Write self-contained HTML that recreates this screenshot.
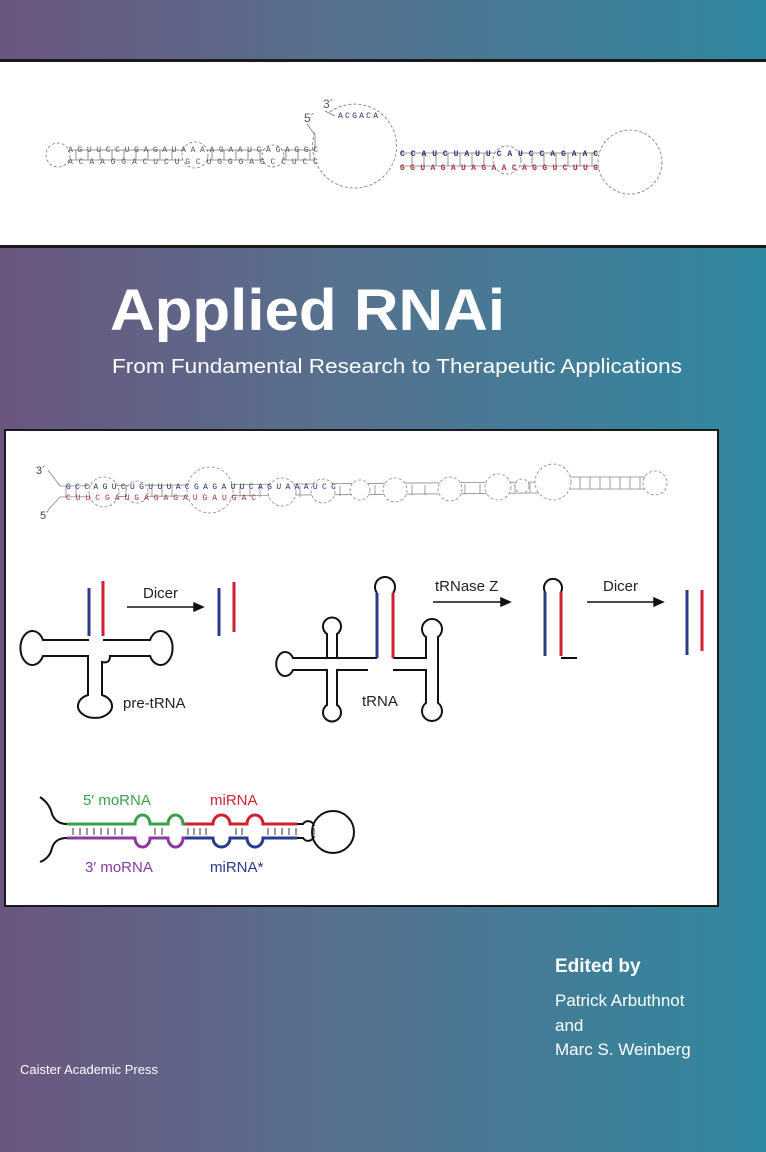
<!DOCTYPE html>
<html><head><meta charset="utf-8"><style>
html,body{margin:0;padding:0;width:766px;height:1152px;overflow:hidden}
svg{display:block}
text{font-family:"Liberation Sans",sans-serif}
.m{font-family:"Liberation Mono",monospace;font-size:8px}
</style></head><body>
<svg width="766" height="1152" viewBox="0 0 766 1152" xmlns="http://www.w3.org/2000/svg">
<defs>
<linearGradient id="bg" x1="0" y1="0" x2="1" y2="0">
<stop offset="0" stop-color="#6b5680"/><stop offset="0.45" stop-color="#56718f"/><stop offset="1" stop-color="#2f88a0"/>
</linearGradient>
</defs>
<rect width="766" height="1152" fill="url(#bg)"/>
<rect x="0" y="60" width="766" height="188" fill="#fff"/>
<rect x="0" y="59" width="766" height="3" fill="#1a1a1a"/>
<rect x="0" y="245" width="766" height="3" fill="#1a1a1a"/>
<g fill="none" stroke="#777" stroke-width="0.8">
<circle cx="58" cy="155" r="12" stroke-dasharray="3 2"/>
<line x1="70" y1="150" x2="315" y2="150"/><line x1="70" y1="160" x2="315" y2="160"/>
<path d="M76 150v10M88 150v10M100 150v10M112 150v10M124 150v10M136 150v10M148 150v10M160 150v10M172 150v10M212 150v10M224 150v10M236 150v10M248 150v10M260 150v10M286 150v10M298 150v10M310 150v10"/>
<circle cx="195" cy="155" r="13" fill="#fff" stroke-dasharray="3 2"/>
<circle cx="273" cy="156" r="11" fill="#fff" stroke-dasharray="3 2"/>
<path d="M330 112 A42 42 0 1 1 315 132" stroke-dasharray="3 2"/>
<path d="M307 124 L315 135 L315 150 M325 111 L335 116"/>
<line x1="400" y1="153" x2="598" y2="153"/><line x1="400" y1="166" x2="598" y2="166"/>
<path d="M412 153v13M424 153v13M436 153v13M448 153v13M460 153v13M472 153v13M484 153v13M532 153v13M544 153v13M556 153v13M568 153v13M580 153v13M592 153v13"/>
<circle cx="507" cy="160" r="14" fill="#fff" stroke-dasharray="3 2"/>
<circle cx="630" cy="162" r="32" stroke-dasharray="3 2"/>
</g>
<text class="m" x="68" y="152" fill="#555" textLength="250" lengthAdjust="spacing">AGUUCCUGAGAUAAAAGAAUCAGAGGC</text>
<text class="m" x="68" y="164" fill="#555" textLength="250" lengthAdjust="spacing">ACAAGGACUCUGCUGGGAGCCUCC</text>
<text class="m" x="400" y="156" fill="#2a2a6a" font-weight="bold" textLength="198" lengthAdjust="spacing">CCAUCUAUUCAUCCAGAAC</text>
<text class="m" x="400" y="170" fill="#b03040" font-weight="bold" textLength="198" lengthAdjust="spacing">GGUAGAUAGAACAGGUCUUG</text>
<text class="m" x="338" y="118" fill="#2a2a6a" textLength="40">ACGACA</text>
<text x="304" y="122" font-size="12" fill="#555">5´</text>
<text x="323" y="108" font-size="12" fill="#555">3´</text>
<text x="110" y="330" font-size="58" font-weight="bold" fill="#fff" textLength="395" lengthAdjust="spacingAndGlyphs">Applied RNAi</text>
<text x="112" y="373" font-size="20" fill="#fff" textLength="570" lengthAdjust="spacingAndGlyphs">From Fundamental Research to Therapeutic Applications</text>
<rect x="5" y="430" width="713" height="476" fill="#fff" stroke="#1a1a1a" stroke-width="2"/>
<g fill="none" stroke="#888" stroke-width="0.8">
<path d="M48 470 L60 486 M48 510 L60 497"/>
<line x1="60" y1="486" x2="540" y2="482"/><line x1="60" y1="497" x2="540" y2="493"/>
<path d="M66 486v11M76 486v11M126 486v11M152 486v11M162 486v11M172 486v11M240 486v11M250 486v11M260 486v11M300 486v11M340 486v10M375 485v10M412 485v10M425 485v10M465 484v10M480 484v10M515 483v10M530 483v10"/>
<g fill="#fff" stroke-dasharray="3 2">
<circle cx="104" cy="492" r="15"/><circle cx="137" cy="492" r="11"/><circle cx="210" cy="490" r="23"/>
<circle cx="282" cy="492" r="14"/><circle cx="323" cy="491" r="12"/><circle cx="360" cy="490" r="10"/>
<circle cx="395" cy="490" r="12"/><circle cx="450" cy="489" r="12"/><circle cx="498" cy="487" r="13"/>
<circle cx="522" cy="486" r="7"/><circle cx="553" cy="482" r="18"/>
</g>
<line x1="570" y1="477" x2="645" y2="477"/><line x1="570" y1="489" x2="645" y2="489"/>
<path d="M580 477v12M590 477v12M600 477v12M610 477v12M620 477v12M630 477v12M640 477v12"/>
<circle cx="655" cy="483" r="12" stroke-dasharray="3 2"/>
</g>
<text class="m" x="66" y="489" fill="#2a2a6a" font-size="7" textLength="270" lengthAdjust="spacing">GCCAGUCUGUUUACGAGAUUCAGUAAAUCC</text>
<text class="m" x="66" y="500" fill="#b03040" font-size="7" textLength="190" lengthAdjust="spacing">CUUCGAUGAGAGAUGAUGAC</text>
<text x="36" y="474" font-size="11" fill="#444">3´</text>
<text x="40" y="519" font-size="11" fill="#444">5´</text>
<g fill="none" stroke="#111" stroke-width="2">
<path d="M89 640 L43 640 A12 17 0 1 0 43 656 L88 656 L88 695 A17 12 0 1 0 102 695 L102 662 Q110 664 110 656 L150 656 A12 17 0 1 0 150 640 L103 640"/>
<path d="M377 658 L293 658 A9 12 0 1 0 293 670 L327 670 L327 705 A9 9 0 1 0 337 705 L337 670 L368 670"/>
<path d="M327 658 L327 634 A9 9 0 1 1 337 634 L337 658"/>
<path d="M393 658 L426 658 L426 637 A10 10 0 1 1 438 637 L438 703 A10 10 0 1 1 426 703 L426 670 L393 670"/>
<path d="M377 593 A10 10 0 1 1 393 593"/>
<path d="M545 592 A9 9 0 1 1 561 592"/>
<path d="M561 658 L577 658"/>
<path d="M40 797 Q50 804 52 814 Q56 824 67 824"/>
<path d="M67 838 Q55 838 52 848 Q50 858 40 862"/>
<path d="M297 824 L303 824 A6 6 0 0 1 314 826 M297 838 L303 838 A6 6 0 0 0 314 836"/>
<circle cx="333" cy="832" r="21"/>
</g>
<g stroke-width="3" fill="none">
<line x1="89" y1="588" x2="89" y2="636" stroke="#2a3a8c"/>
<line x1="103" y1="581" x2="103" y2="636" stroke="#d02030"/>
<line x1="219" y1="588" x2="219" y2="636" stroke="#2a3a8c"/>
<line x1="234" y1="582" x2="234" y2="632" stroke="#d02030"/>
<line x1="377" y1="593" x2="377" y2="658" stroke="#2a3a8c"/>
<line x1="393" y1="593" x2="393" y2="658" stroke="#d02030"/>
<line x1="545" y1="592" x2="545" y2="656" stroke="#2a3a8c"/>
<line x1="561" y1="592" x2="561" y2="656" stroke="#d02030"/>
<line x1="687" y1="590" x2="687" y2="655" stroke="#2a3a8c"/>
<line x1="702" y1="590" x2="702" y2="651" stroke="#d02030"/>
<path d="M67 824 L135 824 A7.5 9 0 0 1 150 824 L168 824 A7.5 9 0 0 1 183 824 L185 824" stroke="#3aa048"/>
<path d="M185 824 L213 824 A8.5 9 0 0 1 230 824 L247 824 A8 9 0 0 1 263 824 L297 824" stroke="#d02030"/>
<path d="M67 838 L135 838 A7.5 9 0 0 0 150 838 L168 838 A7.5 9 0 0 0 183 838 L185 838" stroke="#8a3aa0"/>
<path d="M185 838 L213 838 A8.5 9 0 0 0 230 838 L247 838 A8 9 0 0 0 263 838 L297 838" stroke="#2a3a8c"/>
</g>
<g stroke="#333" stroke-width="1">
<path d="M73 828v7M80 828v7M87 828v7M94 828v7M101 828v7M108 828v7M115 828v7M122 828v7M155 828v7M162 828v7M188 828v7M194 828v7M200 828v7M206 828v7M236 828v7M242 828v7M268 828v7M275 828v7M282 828v7M289 828v7M296 828v7M314 828v7"/>
</g>
<g stroke="#111" stroke-width="1.5" fill="#111">
<line x1="127" y1="607" x2="196" y2="607"/><path d="M203 607 l-9 -4 v8z"/>
<line x1="433" y1="602" x2="502" y2="602"/><path d="M510 602 l-9 -4 v8z"/>
<line x1="587" y1="602" x2="655" y2="602"/><path d="M663 602 l-9 -4 v8z"/>
</g>
<g font-size="15" fill="#222">
<text x="143" y="598">Dicer</text>
<text x="123" y="708">pre-tRNA</text>
<text x="362" y="706">tRNA</text>
<text x="435" y="591">tRNase Z</text>
<text x="603" y="591">Dicer</text>
<text x="83" y="805" fill="#3aa048">5′ moRNA</text>
<text x="210" y="805" fill="#d02030">miRNA</text>
<text x="85" y="872" fill="#8a3aa0">3′ moRNA</text>
<text x="210" y="872" fill="#2a3a8c">miRNA*</text>
</g>
<text x="555" y="972" font-size="19" font-weight="bold" fill="#fff">Edited by</text>
<text x="555" y="1006" font-size="17" fill="#fff">Patrick Arbuthnot</text>
<text x="555" y="1031" font-size="17" fill="#fff">and</text>
<text x="555" y="1055" font-size="17" fill="#fff">Marc S. Weinberg</text>
<text x="20" y="1074" font-size="13" fill="#fff">Caister Academic Press</text>
</svg>
</body></html>
